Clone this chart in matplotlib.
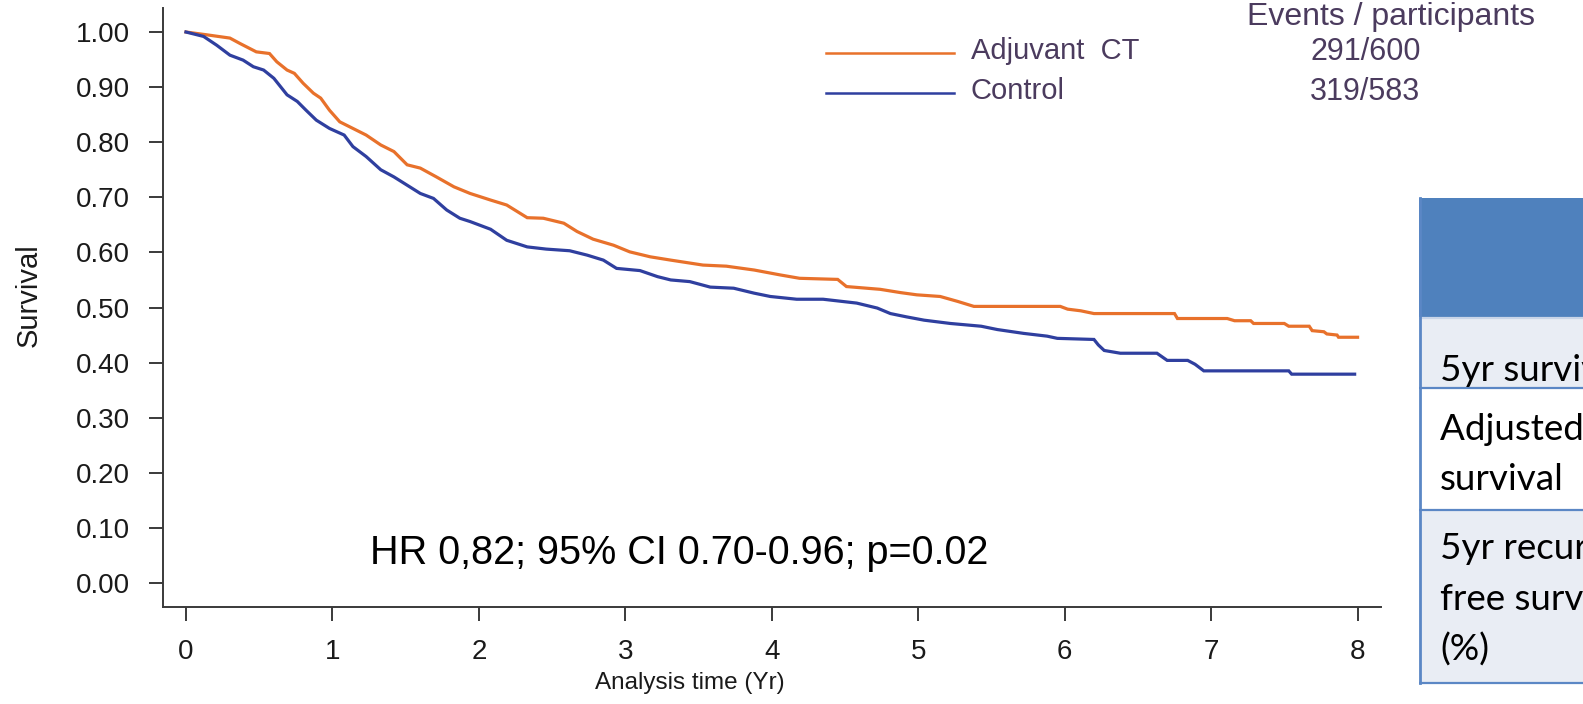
import matplotlib
matplotlib.use("Agg")
import matplotlib.pyplot as plt
from matplotlib.lines import Line2D
from matplotlib.patches import Rectangle

# Kaplan-Meier estimates (years, survival probability)
years_ct = [0.00, 0.14, 0.30, 0.37, 0.48, 0.57, 0.62, 0.69, 0.74, 0.80, 0.87, 0.92, 0.98,
            1.05, 1.14, 1.23, 1.33, 1.42, 1.51, 1.60, 1.71, 1.83, 1.94, 2.08, 2.19, 2.33,
            2.44, 2.58, 2.67, 2.78, 2.92, 3.03, 3.17, 3.31, 3.53, 3.69, 3.88, 4.06, 4.19,
            4.45, 4.51, 4.74, 4.88, 4.99, 5.15, 5.27, 5.38, 5.97, 6.02, 6.11, 6.20, 6.75,
            6.77, 7.11, 7.16, 7.27, 7.29, 7.50, 7.53, 7.67, 7.69, 7.77, 7.79, 7.86, 7.87, 8.00]
surv_ct = [1.000, 0.995, 0.989, 0.979, 0.964, 0.961, 0.946, 0.931, 0.925, 0.907, 0.889, 0.880,
           0.858, 0.837, 0.825, 0.813, 0.795, 0.783, 0.759, 0.753, 0.737, 0.719, 0.707, 0.695,
           0.686, 0.663, 0.662, 0.653, 0.638, 0.624, 0.613, 0.601, 0.592, 0.586, 0.577, 0.575,
           0.568, 0.559, 0.553, 0.551, 0.538, 0.533, 0.527, 0.523, 0.520, 0.511, 0.502, 0.502,
           0.497, 0.494, 0.489, 0.489, 0.480, 0.480, 0.476, 0.476, 0.471, 0.471, 0.466, 0.466,
           0.458, 0.456, 0.452, 0.450, 0.446, 0.446]

years_ctrl = [0.00, 0.12, 0.21, 0.30, 0.39, 0.46, 0.53, 0.60, 0.69, 0.76, 0.82, 0.89, 0.98,
              1.08, 1.14, 1.23, 1.33, 1.42, 1.51, 1.60, 1.69, 1.78, 1.87, 1.94, 2.08, 2.19,
              2.33, 2.46, 2.62, 2.74, 2.85, 2.94, 3.10, 3.22, 3.31, 3.44, 3.58, 3.74, 3.88,
              3.99, 4.17, 4.35, 4.58, 4.72, 4.81, 4.92, 5.04, 5.22, 5.43, 5.54, 5.72, 5.88,
              5.95, 6.20, 6.23, 6.27, 6.38, 6.63, 6.70, 6.84, 6.89, 6.95, 7.53, 7.55, 7.98]
surv_ctrl = [1.000, 0.992, 0.976, 0.958, 0.949, 0.937, 0.931, 0.916, 0.886, 0.874, 0.858,
             0.840, 0.825, 0.813, 0.792, 0.774, 0.750, 0.737, 0.722, 0.707, 0.698, 0.677,
             0.662, 0.656, 0.642, 0.622, 0.610, 0.606, 0.603, 0.595, 0.586, 0.571, 0.567,
             0.556, 0.550, 0.547, 0.537, 0.535, 0.526, 0.520, 0.515, 0.515, 0.508, 0.499,
             0.489, 0.483, 0.477, 0.471, 0.466, 0.460, 0.453, 0.448, 0.444, 0.442, 0.432,
             0.422, 0.417, 0.417, 0.404, 0.404, 0.397, 0.385, 0.385, 0.379, 0.379]

x_ticks = [0, 1, 2, 3, 4, 5, 6, 7, 8]
y_ticks = [0.0, 0.1, 0.2, 0.3, 0.4, 0.5, 0.6, 0.7, 0.8, 0.9, 1.0]

groups = ["Adjuvant  CT", "Control"]
events = ["291/600", "319/583"]
table_rows = [["5yr survival (%)"],
              ["Adjusted 5yr", "survival"],
              ["5yr recurrence-", "free survival", "(%)"]]

ORANGE = "#E8712B"
BLUE = "#2F3F9F"
LEG_TEXT = "#4B3B5E"
SANS = ["Liberation Sans", "DejaVu Sans"]

W, H = 1583, 704
fig = plt.figure(figsize=(W / 100, H / 100), dpi=100)
fig.patch.set_facecolor("white")


def fx(px):
    return px / W


def fy(py):
    return 1 - py / H


ax = fig.add_axes([fx(163), fy(607), fx(1381) - fx(163), fy(8) - fy(607)])
ax.set_xlim(-0.157, 8.16)
ax.set_ylim(-0.0436, 1.0436)

ax.plot(years_ct, surv_ct, color=ORANGE, lw=2.3, solid_joinstyle="miter")
ax.plot(years_ctrl, surv_ctrl, color=BLUE, lw=2.3, solid_joinstyle="miter")

for side in ("top", "right"):
    ax.spines[side].set_visible(False)
for side in ("left", "bottom"):
    ax.spines[side].set_color("#3a3a3a")
    ax.spines[side].set_linewidth(1.4)

ax.set_xticks(x_ticks)
ax.set_xticklabels([str(v) for v in x_ticks])
ax.set_yticks(y_ticks)
ax.set_yticklabels([f"{v:.2f}" for v in y_ticks])
ax.tick_params(axis="both", length=10, width=1.4, color="#3a3a3a",
               labelsize=20, labelcolor="#1a1a1a")
ax.tick_params(axis="y", pad=14)
ax.tick_params(axis="x", pad=13)
for lab in ax.get_xticklabels() + ax.get_yticklabels():
    lab.set_family(SANS)

fig.text(fx(29), fy(295), "Survival", rotation=90, ha="center", va="center",
         fontsize=21, family=SANS, color="#1a1a1a")
fig.text(fx(690), fy(683), "Analysis time (Yr)", ha="center", va="center",
         fontsize=17.5, family=SANS, color="#1a1a1a")

fig.text(fx(370), fy(553), "HR 0,82; 95% CI 0.70-0.96; p=0.02", ha="left", va="center",
         fontsize=28.5, family=SANS, color="black")

# legend block with event counts
fig.text(fx(1247), fy(17), "Events / participants", ha="left", va="center",
         fontsize=23, family=SANS, color=LEG_TEXT)
for i, (name, ev, col) in enumerate(zip(groups, events, [ORANGE, BLUE])):
    yy = 53 + 40 * i
    fig.add_artist(Line2D([fx(826), fx(954)], [fy(yy), fy(yy)], color=col, lw=1.8))
    fig.text(fx(971), fy(yy - 2), name, ha="left", va="center",
             fontsize=21, family=SANS, color=LEG_TEXT)
    fig.text(fx(1310), fy(yy - 1), ev, ha="left", va="center",
             fontsize=22, family=SANS, color=LEG_TEXT)

# summary table in the right margin
tx0 = 1419
tab = fig.add_axes([fx(tx0), 0, 1 - fx(tx0), 1])
tab.set_xlim(tx0, W)
tab.set_ylim(H, 0)
tab.axis("off")
row_edges = [198, 318, 388, 510, 683]
fills = ["#4F81BD", "#E9EDF4", "#FFFFFF", "#E9EDF4"]
for k in range(4):
    tab.add_patch(Rectangle((tx0, row_edges[k]), 400, row_edges[k + 1] - row_edges[k],
                            facecolor=fills[k], edgecolor="none", clip_on=True))
tab.plot([tx0, W + 10], [row_edges[1], row_edges[1]], color="#C9D5E8", lw=1.6, clip_on=True)
for k in range(2, 5):
    tab.plot([tx0, W + 10], [row_edges[k], row_edges[k]], color="#5B87C5", lw=1.6, clip_on=True)
tab.plot([tx0 + 1, tx0 + 1], [row_edges[0], row_edges[-1]], color="#5B87C5", lw=2.0, clip_on=True)
baselines = [[381], [440, 490], [559, 610, 661]]
for lines, bases in zip(table_rows, baselines):
    for txt, yb in zip(lines, bases):
        tab.text(tx0 + 21, yb, txt, ha="left", va="baseline", fontsize=26.5,
                 family=["Lato", "DejaVu Sans"], color="black", clip_on=True)

fig.savefig("out.png", dpi=100)
